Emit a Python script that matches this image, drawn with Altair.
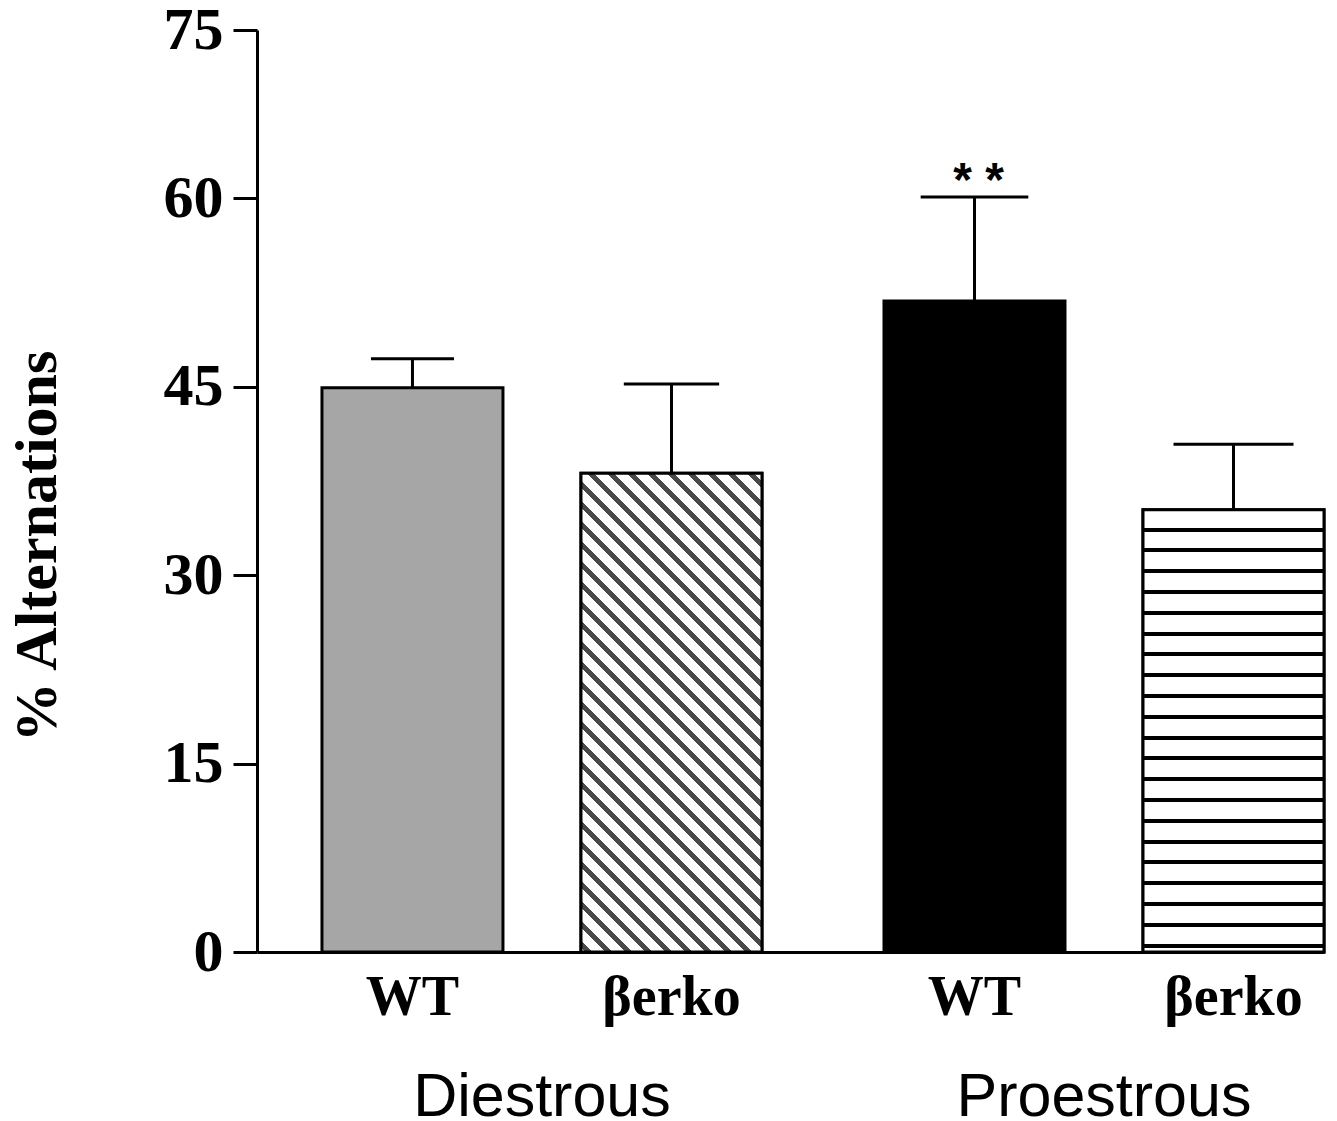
import altair as alt
import pandas as pd

# ---- data ----
phases = ["Diestrous", "Diestrous", "Proestrous", "Proestrous"]
genotypes = ["WT", "βerko", "WT", "βerko"]
means = [44.9, 38.1, 51.8, 35.2]
sems = [2.3, 7.1, 8.3, 5.2]
signif = ["", "", "* *", ""]
y_ticks = [0, 15, 30, 45, 60, 75]

keys = [p + " " + g for p, g in zip(phases, genotypes)]
df = pd.DataFrame({
    "phase": phases,
    "genotype": genotypes,
    "key": keys,
    "mean": means,
    "top": [m + s for m, s in zip(means, sems)],
    "sig": signif,
})

# ---- styling ----
PLOT_W, PLOT_H = 1067, 922
Y_RANGE = [PLOT_H, 168, 0]          # piecewise y scale: 0, 60, 75
PX_PER_UNIT = (Y_RANGE[0] - Y_RANGE[1]) / 60.0
BAR_W = 181
SERIF = "Liberation Serif"
SANS = "Liberation Sans"
LW = 3

fill_colors = ["#a6a6a6", "white", "black", "white"]


def diag_gradient(h, w=BAR_W, spacing=20.0, thick=7.0, color="#4a4a4a"):
    # stripes running top-left -> bottom-right at 45 degrees in pixel space
    L = w + h
    t = (w + h) * w * h / (w * w + h * h)
    stops = [{"offset": 0, "color": "white"}]
    c = -h + 8.0
    while c < w:
        s0 = max(0.0, (c + h - thick / 2) / L)
        s1 = min(1.0, (c + h + thick / 2) / L)
        stops += [{"offset": s0, "color": "white"}, {"offset": s0, "color": color},
                  {"offset": s1, "color": color}, {"offset": s1, "color": "white"}]
        c += spacing
    stops.append({"offset": 1, "color": "white"})
    return {"gradient": "linear", "x1": 0, "y1": 1, "x2": t / h, "y2": 1 - t / w,
            "stops": stops}


def horiz_gradient(h, first=20.0, spacing=20.8, thick=4.0, color="black"):
    stops = [{"offset": 0, "color": "white"}]
    p = first
    while p < h - 3:
        s0 = max(0.0, (p - thick / 2) / h)
        s1 = min(1.0, (p + thick / 2) / h)
        stops += [{"offset": s0, "color": "white"}, {"offset": s0, "color": color},
                  {"offset": s1, "color": color}, {"offset": s1, "color": "white"}]
        p += spacing
    stops.append({"offset": 1, "color": "white"})
    return {"gradient": "linear", "x1": 0, "y1": 0, "x2": 0, "y2": 1, "stops": stops}


x_enc = alt.X(
    "phase:N",
    sort=["Diestrous", "Proestrous"],
    scale=alt.Scale(paddingInner=0.2171, paddingOuter=0.0578, align=1),
    axis=alt.Axis(title=None, labelAngle=0, ticks=False, tickSize=0,
                  labelFont=SANS, labelFontSize=61, labelColor="black",
                  labelBaseline="alphabetic", labelPadding=163, labelLimit=0,
                  domainColor="black", domainWidth=LW),
)
xo_enc = alt.XOffset("genotype:N", sort=["WT", "βerko"],
                     scale=alt.Scale(paddingInner=0.3012, paddingOuter=0))
y_scale = alt.Scale(domain=[0, 60, 75], range=Y_RANGE, nice=False, zero=True)
y_enc = alt.Y(
    "mean:Q",
    scale=y_scale,
    axis=alt.Axis(values=y_ticks, title="% Alternations", grid=False,
                  labelFont=SERIF, labelFontWeight="bold", labelFontSize=60,
                  labelColor="black", labelPadding=10, labelBaseline="middle",
                  labelLimit=0,
                  tickSize=24, tickWidth=LW, tickColor="black",
                  domainColor="black", domainWidth=LW,
                  titleFont=SERIF, titleFontWeight="bold", titleFontSize=60,
                  titleColor="black", titleAngle=270, titleAlign="center",
                  titleBaseline="alphabetic", titleX=-202, titleY=516),
)

base = alt.Chart(df)

bars = base.mark_bar(stroke="black", strokeWidth=LW).encode(
    x=x_enc, xOffset=xo_enc, y=y_enc,
    fill=alt.Fill("key:N", scale=alt.Scale(domain=keys, range=fill_colors), legend=None),
)

h_diag = means[1] * PX_PER_UNIT
h_horiz = means[3] * PX_PER_UNIT

bar_diag = base.transform_filter(alt.datum.key == keys[1]).mark_bar(
    stroke="black", strokeWidth=LW, fill=diag_gradient(h_diag)
).encode(x=x_enc, xOffset=xo_enc, y=y_enc)

bar_horiz = base.transform_filter(alt.datum.key == keys[3]).mark_bar(
    stroke="black", strokeWidth=LW, fill=horiz_gradient(h_horiz)
).encode(x=x_enc, xOffset=xo_enc, y=y_enc)

err = base.mark_rule(color="black", strokeWidth=LW).encode(
    x=x_enc, xOffset=xo_enc, y=alt.Y("mean:Q", scale=y_scale), y2="top:Q")

caps = base.mark_tick(color="black", thickness=LW, opacity=1).encode(
    x=x_enc, xOffset=xo_enc, y=alt.Y("top:Q", scale=y_scale),
    size=alt.Size("key:N", scale=alt.Scale(domain=keys, range=[83, 120, 107, 122]),
                  legend=None),
)

stars = base.mark_text(font=SANS, fontWeight="bold", fontSize=48, color="black",
                       baseline="alphabetic", dy=-1, dx=4).encode(
    x=x_enc, xOffset=xo_enc, y=alt.Y("top:Q", scale=y_scale), text="sig:N")

bar_labels = base.mark_text(font=SERIF, fontWeight="bold", fontSize=56, color="black",
                            baseline="alphabetic", dy=63).encode(
    x=x_enc, xOffset=xo_enc, y=alt.datum(0), text="genotype:N")

chart = alt.layer(bars, bar_diag, bar_horiz, err, caps, stars, bar_labels).properties(
    width=PLOT_W, height=PLOT_H,
    autosize=alt.AutoSizeParams(type="none"),
    padding={"left": 249, "top": 22, "right": 5, "bottom": 169},
    background="white",
).configure_view(stroke=None)

chart.save("out.html", embed_options={"renderer": "svg", "actions": False})
